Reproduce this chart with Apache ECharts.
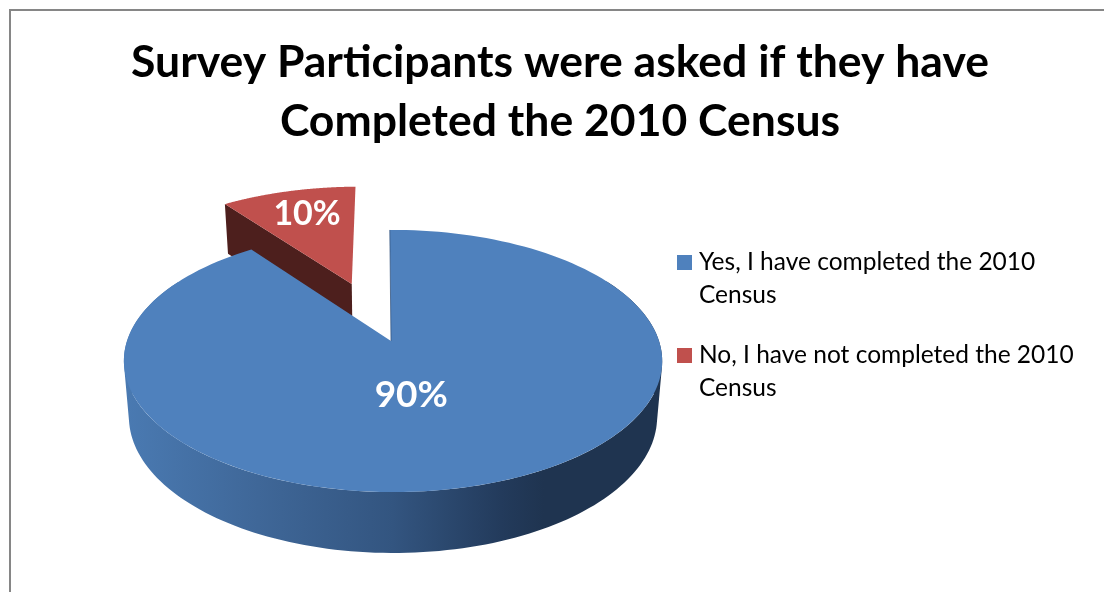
<!DOCTYPE html>
<html><head><meta charset="utf-8">
<style>html,body{margin:0;padding:0;background:#fff}#c{width:1104px;height:592px}</style>
<script src="https://cdn.jsdelivr.net/npm/echarts@6/dist/echarts.min.js"></script>
</head><body><div id="c"></div>
<script>
const titleText = 'Survey Participants were asked if they have\nCompleted the 2010 Census';
const categories = ['Yes, I have completed the 2010\nCensus', 'No, I have not completed the 2010\nCensus'];
const values = [90, 10];
const sliceColors = ['#4F81BD', '#C0504D'];
const wallColors = ['#1F3450', '#4D1F1D'];
const explode = [0, 0.505];
const labelRadius = [0.4, 0.73];
const labelTurn = [8, 1.2];
const labelFontSize = [37, 34];

const FONT = 'Lato';
const total = values.reduce((a, b) => a + b, 0);
const startDeg = -0.3;
const P = 0.1527;
const Q = 0.0075;
const topView = { cx: 391, cy: 341, rx: 266, ry: 128 };
const baseView = { cx: 391, cy: 396, rx: 261, ry: 133 };

function project(view, u, v) {
  const w = 1 - P * v - Q * u;
  return [view.cx + view.rx * u / w, view.cy + view.ry * v / w];
}
function sliceRange(i) {
  let before = 0;
  for (let k = 0; k < i; k++) before += values[k];
  return [startDeg + 360 * before / total, startDeg + 360 * (before + values[i]) / total];
}
function offsetOf(i) {
  const r = sliceRange(i), mid = (r[0] + r[1]) / 2 * Math.PI / 180;
  return [Math.sin(mid) * explode[i], -Math.cos(mid) * explode[i]];
}
function rim(view, i, a0, a1) {
  const off = offsetOf(i), pts = [], n = 160;
  for (let k = 0; k <= n; k++) {
    const a = (a0 + (a1 - a0) * k / n) * Math.PI / 180;
    pts.push(project(view, off[0] + Math.sin(a), off[1] - Math.cos(a)));
  }
  return pts;
}
function apex(view, i) { const off = offsetOf(i); return project(view, off[0], off[1]); }

// the outer wall: one closed quad per rim step, all wound the same way, so the
// silhouette between the top and bottom ellipses is filled without seams
function wallPath(a, b) {
  let d = '';
  for (let k = 0; k + 1 < a.length; k++) {
    let q = [a[k], a[k + 1], b[k + 1], b[k]];
    let area = 0;
    for (let j = 0; j < 4; j++) {
      const p = q[j], n = q[(j + 1) % 4];
      area += p[0] * n[1] - n[0] * p[1];
    }
    if (area < 0) q = q.reverse();
    d += 'M' + q.map(p => p[0].toFixed(2) + ' ' + p[1].toFixed(2)).join('L') + 'Z';
  }
  return d;
}

function renderSlice(i, params, api) {
  const value = api.value(0);
  const r = sliceRange(i);
  const children = [];
  if (i === 0) {
    children.push({
      type: 'path', shape: { pathData: wallPath(rim(topView, i, 60, 300), rim(baseView, i, 60, 300)) },
      style: {
        fill: new echarts.graphic.LinearGradient(124, 0, 662, 0, [
          { offset: 0, color: '#4A7AB2' },
          { offset: 0.25, color: '#3F6798' },
          { offset: 0.5, color: '#335580' },
          { offset: 0.7, color: '#233B5C' },
          { offset: 0.78, color: wallColors[0] },
          { offset: 1, color: wallColors[0] }
        ], true)
      }
    });
  } else {
    const t0 = apex(topView, i), b0 = apex(baseView, i);
    const tEnd = rim(topView, i, r[0], r[0])[0], bEnd = rim(baseView, i, r[0], r[0])[0];
    children.push({ type: 'polygon', shape: { points: [t0, tEnd, bEnd, b0] }, style: { fill: wallColors[i] } });
  }
  const face = [apex(topView, i)].concat(rim(topView, i, r[0], r[1]));
  children.push({ type: 'polygon', shape: { points: face }, style: { fill: sliceColors[i] } });
  if (i === 0) {
    const e = rim(topView, i, r[0], r[0])[0];
    children.push({
      type: 'line', shape: { x1: e[0], y1: e[1], x2: apex(topView, i)[0], y2: apex(topView, i)[1] },
      style: { stroke: '#2F4F78', lineWidth: 1, opacity: 0.7 }
    });
  }
  const off = offsetOf(i);
  const la = ((r[0] + r[1]) / 2 + labelTurn[i]) * Math.PI / 180;
  const lp = project(topView, off[0] + Math.sin(la) * labelRadius[i], off[1] - Math.cos(la) * labelRadius[i]);
  children.push({
    type: 'text', z2: 10,
    style: { x: lp[0], y: lp[1], text: value + '%', fill: '#fff', font: 'bold ' + labelFontSize[i] + 'px ' + FONT, align: 'center', verticalAlign: 'middle' }
  });
  return { type: 'group', children };
}

const chart = echarts.init(document.getElementById('c'), null, { renderer: 'canvas' });
chart.setOption({
  animation: false,
  backgroundColor: '#fff',
  title: {
    text: titleText, left: 555, top: 28, textAlign: 'center',
    textStyle: { fontFamily: FONT, fontWeight: 'bold', fontSize: 44.5, lineHeight: 59, color: '#000' }
  },
  legend: {
    orient: 'vertical', left: 677, top: 213, padding: 0, itemWidth: 15, itemHeight: 15, itemGap: -6,
    icon: 'rect', selectedMode: false, data: categories,
    formatter: name => '\n' + name.split('\n').map(s => '{t|' + s + '}').join('\n'),
    textStyle: {
      fontFamily: FONT, fontSize: 24.5, lineHeight: 33, color: '#000',
      rich: { t: { fontFamily: FONT, fontSize: 24.5, lineHeight: 33, color: '#000', padding: [0, 0, 0, 2] } }
    }
  },
  graphic: [{
    type: 'rect', silent: true, z: -1,
    shape: { x: 10, y: 10, width: 1300, height: 800 },
    style: { fill: 'none', stroke: '#868686', lineWidth: 2 }
  }],
  series: [
    { type: 'custom', name: categories[1], coordinateSystem: 'none', z: 1, itemStyle: { color: sliceColors[1] },
      data: [[values[1]]], renderItem: (p, api) => renderSlice(1, p, api) },
    { type: 'custom', name: categories[0], coordinateSystem: 'none', z: 2, itemStyle: { color: sliceColors[0] },
      data: [[values[0]]], renderItem: (p, api) => renderSlice(0, p, api) }
  ]
});
</script></body></html>
